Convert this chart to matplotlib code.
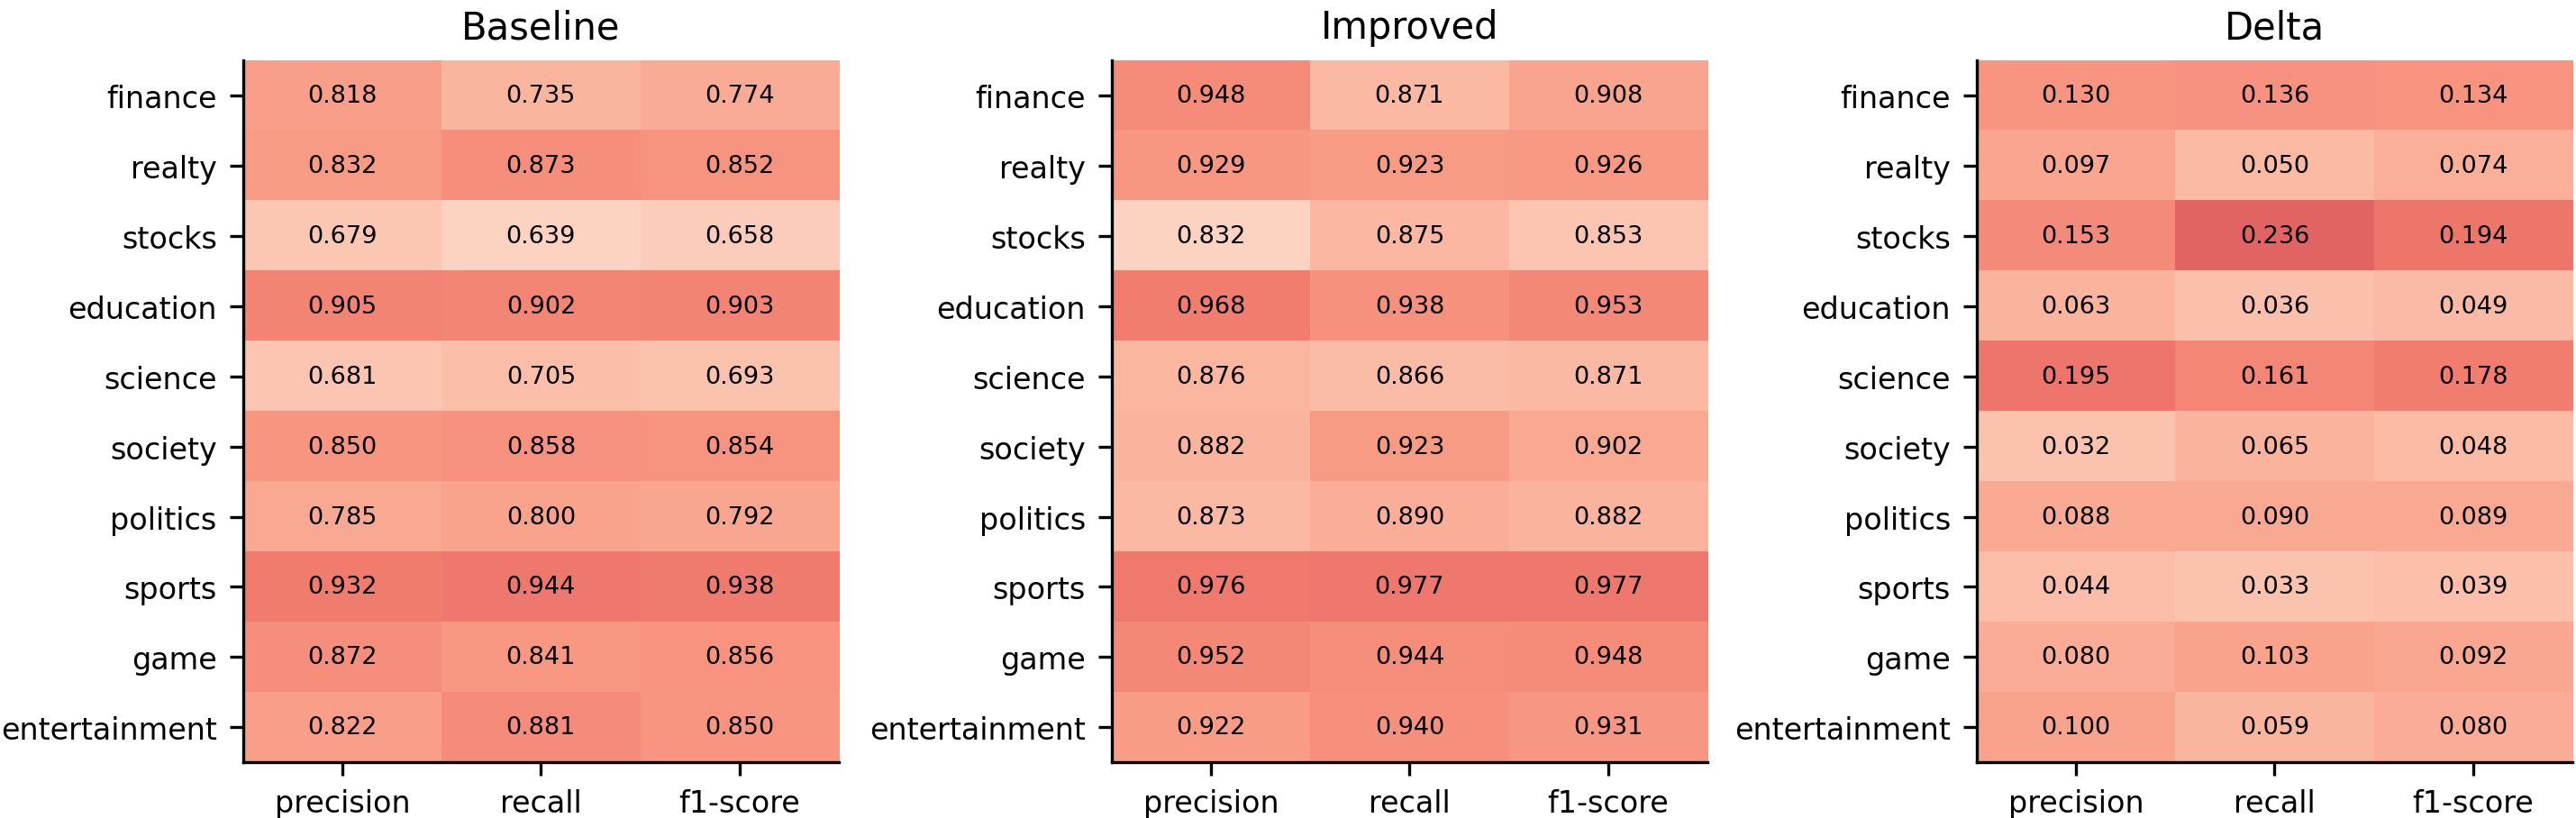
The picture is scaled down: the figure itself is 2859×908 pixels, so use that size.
import numpy as np
import matplotlib
matplotlib.use("Agg")
import matplotlib.pyplot as plt
from matplotlib.colors import LinearSegmentedColormap, Normalize

categories = ["finance", "realty", "stocks", "education", "science",
              "society", "politics", "sports", "game", "entertainment"]
metrics = ["precision", "recall", "f1-score"]

baseline = np.array([
    [0.818, 0.735, 0.774],
    [0.832, 0.873, 0.852],
    [0.679, 0.639, 0.658],
    [0.905, 0.902, 0.903],
    [0.681, 0.705, 0.693],
    [0.850, 0.858, 0.854],
    [0.785, 0.800, 0.792],
    [0.932, 0.944, 0.938],
    [0.872, 0.841, 0.856],
    [0.822, 0.881, 0.850],
])

improved = np.array([
    [0.948, 0.871, 0.908],
    [0.929, 0.923, 0.926],
    [0.832, 0.875, 0.853],
    [0.968, 0.938, 0.953],
    [0.876, 0.866, 0.871],
    [0.882, 0.923, 0.902],
    [0.873, 0.890, 0.882],
    [0.976, 0.977, 0.977],
    [0.952, 0.944, 0.948],
    [0.922, 0.940, 0.931],
])

delta = np.array([
    [0.130, 0.136, 0.134],
    [0.097, 0.050, 0.074],
    [0.153, 0.236, 0.194],
    [0.063, 0.036, 0.049],
    [0.195, 0.161, 0.178],
    [0.032, 0.065, 0.048],
    [0.088, 0.090, 0.089],
    [0.044, 0.033, 0.039],
    [0.080, 0.103, 0.092],
    [0.100, 0.059, 0.080],
])

titles = ["Baseline", "Improved", "Delta"]

# light peach -> salmon -> soft red
cmap = LinearSegmentedColormap.from_list("salmon", [
    (0.00, (252/255, 210/255, 192/255)),
    (0.25, (251/255, 182/255, 160/255)),
    (0.50, (249/255, 156/255, 134/255)),
    (0.75, (242/255, 126/255, 112/255)),
    (1.00, (226/255, 100/255, 98/255)),
])

fig = plt.figure(figsize=(2859 / 300, 909 / 300), dpi=300)
lefts = [0.0944, 0.4316, 0.7674]
width = 0.2312
bottom, top = 0.068, 0.925

for i, (data, title) in enumerate(zip([baseline, improved, delta], titles)):
    ax = fig.add_axes([lefts[i], bottom, width, top - bottom])
    if title == "Delta":
        lo, hi = 0.0, data.max()
    else:
        # scores panels stop short of the darkest end of the map
        lo = data.min()
        hi = lo + (data.max() - lo) / 0.8
    ax.imshow(data, cmap=cmap, norm=Normalize(lo, hi), aspect="auto",
              interpolation="nearest")
    for r in range(data.shape[0]):
        for c in range(data.shape[1]):
            ax.text(c, r, f"{data[r, c]:.3f}", ha="center", va="center",
                    fontsize=6.5, color="black")
    ax.set_xticks(range(len(metrics)))
    ax.set_xticklabels(metrics, fontsize=8)
    ax.set_yticks(range(len(categories)))
    ax.set_yticklabels(categories, fontsize=8)
    ax.set_title(title, fontsize=10)
    ax.spines["top"].set_visible(False)
    ax.spines["right"].set_visible(False)
    ax.tick_params(length=3.5, width=0.8)

fig.savefig("out.png", dpi=300)
